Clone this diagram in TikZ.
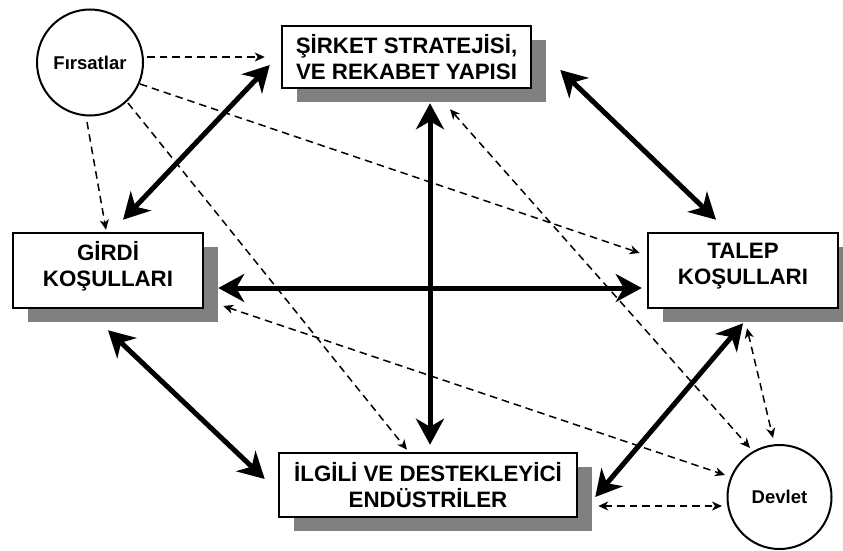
\documentclass[tikz,border=0pt]{standalone}
\usepackage{fontspec}
\setmainfont{Liberation Sans}
\usetikzlibrary{arrows.meta,calc,shadows}
\begin{document}
\begin{tikzpicture}[x=1pt,y=-1pt,
  factor/.style={rectangle, draw=black, line width=2.5pt, fill=white,
    inner sep=0pt, align=center,
    font=\bfseries\fontsize{22.3}{26}\selectfont,
    drop shadow={shadow xshift=15pt, shadow yshift=-14pt, fill=black!50, opacity=1}},
  actor/.style={circle, draw=black, line width=2pt, fill=white, inner sep=0pt,
    font=\bfseries\fontsize{18.5}{20}\selectfont},
  bigtip/.tip={Stealth[length=26pt,width=28pt,inset=8pt]},
  smalltip/.tip={Stealth[length=10pt,width=9pt,inset=3pt]},
  strong/.style={line width=5pt, bigtip-bigtip},
  weak/.style={line width=1.5pt, dash pattern=on 7.5pt off 5pt, -smalltip},
  weakboth/.style={line width=1.5pt, dash pattern=on 7.5pt off 5pt, smalltip-smalltip},
]
\path[use as bounding box, clip] (0,0) rectangle (843,551);

% the four determinants of the diamond
\node[factor, minimum width=249pt, minimum height=62pt] (firm) at (406.5,57)
  {ŞİRKET STRATEJİSİ,\\VE REKABET YAPISI};
\node[factor, minimum width=190pt, minimum height=75pt] (input) at (108,270.5)
  {GİRDİ\\KOŞULLARI\\[-12pt]\mbox{}};
\node[factor, minimum width=190pt, minimum height=75pt] (demand) at (743,270.5)
  {TALEP\\KOŞULLARI\\[-12pt]\mbox{}};
\node[factor, minimum width=298pt, minimum height=64pt] (related) at (428,485)
  {İLGİLİ VE DESTEKLEYİCİ\\ENDÜSTRİLER};

% the two outside influences
\node[actor, minimum size=106pt] (opp) at (90,62.5) {Fırsatlar};
\node[actor, minimum size=104pt] (gov) at (779.5,497) {Devlet};

% mutual links between the determinants
\draw[strong] ($(firm.west)+(-11,8)$) -- ($(input.north)+(15,-12)$);
\draw[strong] ($(firm.east)+(28,13)$) -- ($(demand.north)+(-27,-12)$);
\draw[strong] ($(input.east)+(14,17.5)$) -- ($(demand.west)+(-5,17.5)$);
\draw[strong] ($(firm.south)+(23.5,14)$) -- ($(related.north)+(2,-7)$);
\draw[strong] ($(input.south)+(0,21)$) -- ($(related.west)+(-13,-6)$);
\draw[strong] ($(demand.south)+(0,14)$) -- ($(related.east)+(17,12)$);

% influence of chance events
\draw[weak] ($(opp)+(57,-5.5)$) -- ($(firm.west)+(-16,0)$);
\draw[weak] ($(opp)+(-3,59.5)$) -- ($(input.north)+(-2,-2)$);
\draw[weak] ($(opp)+(50,21.5)$) -- ($(demand.west)+(-7,-17.5)$);
\draw[weak] ($(opp)+(38,40.5)$) -- ($(related.north)+(-21,-2)$);

% influence of government
\draw[weakboth] ($(firm.south)+(43.5,20)$) -- ($(gov)+(-29.5,-49)$);
\draw[weakboth] ($(demand.south)+(4,19)$) -- ($(gov)+(-6.5,-59)$);
\draw[weakboth] ($(related.east)+(20,21)$) -- ($(gov)+(-57.5,9)$);
\draw[weakboth] ($(input.east)+(19,35.5)$) -- ($(gov)+(-54.5,-22)$);
\end{tikzpicture}
\end{document}
